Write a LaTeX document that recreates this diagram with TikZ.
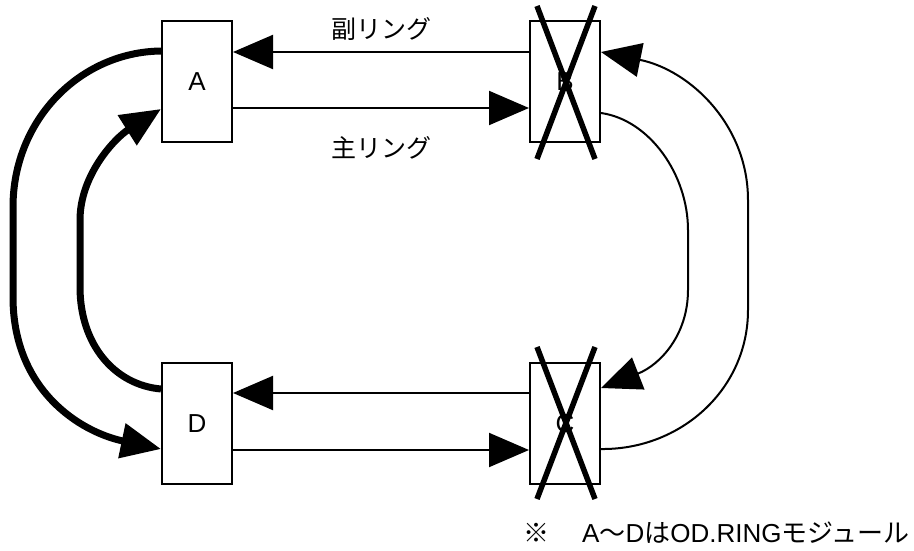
\documentclass[tikz,border=0pt]{standalone}
\usepackage{fontspec}
\setmainfont{Liberation Sans}
\newfontfamily\cjk{Noto Sans CJK JP}
\usetikzlibrary{arrows.meta}

\begin{document}
\begin{tikzpicture}[x=1pt, y=-1pt,
    module/.style={draw, line width=2pt, minimum width=70pt, minimum height=121pt, inner sep=0pt, font=\fontsize{26}{26}\selectfont},
    thin ring/.style={line width=2pt, -{Triangle[length=40pt, width=34pt]}},
    thick ring/.style={line width=7pt, -{Triangle[length=40pt, width=34pt]}},
    broken/.style={line width=5.5pt}]
    \useasboundingbox (0,0) rectangle (914,551);

    % Modules
    \node[module] (A) at (197,81.5) {A};
    \node[module] (B) at (565,81.5) {B};
    \node[module] (D) at (197,423.5) {D};
    \node[module] (C) at (565,423.5) {C};

    % Straight links
    \draw[thin ring] ([yshift=-32pt]B.north west) -- ([yshift=-32pt]A.north east);
    \draw[thin ring] ([yshift=-88pt]A.north west -| A.east) -- ([yshift=-88pt]B.north west);
    \draw[thin ring] ([yshift=-31pt]C.north west) -- ([yshift=-31pt]D.north east);
    \draw[thin ring] ([yshift=-88pt]D.north west -| D.east) -- ([yshift=-88pt]C.north west);

    % Loop-back on the left
    \draw[thick ring] ([yshift=-31pt]A.north west) .. controls (80,52) and (13,120) .. (13,207)
        -- (13,297) .. controls (13,390) and (80,432) .. ([yshift=-87pt]D.north west);
    \draw[thick ring] ([yshift=-27pt]D.north west) .. controls (115,385) and (80,345) .. (80,287)
        -- (80,220) .. controls (80,175) and (115,138) .. ([yshift=-89pt]A.north west);

    % Loop-back on the right
    \draw[thin ring] ([yshift=-87pt]C.north east) .. controls (680,450) and (748,390) .. (748,310)
        -- (748,200) .. controls (748,125) and (690,70) .. ([yshift=-32pt]B.north east);
    \draw[thin ring] ([yshift=-93pt]B.north east) .. controls (650,120) and (688,175) .. (688,230)
        -- (688,290) .. controls (688,335) and (660,365) .. ([yshift=-26pt]C.north east);

    % Failed modules
    \draw[broken] ([xshift=8pt,yshift=14pt]B.north west) -- ([xshift=-6pt,yshift=-16pt]B.south east);
    \draw[broken] ([xshift=-6pt,yshift=14pt]B.north east) -- ([xshift=8pt,yshift=-16pt]B.south west);
    \draw[broken] ([xshift=8pt,yshift=15pt]C.north west) -- ([xshift=-6pt,yshift=-14pt]C.south east);
    \draw[broken] ([xshift=-6pt,yshift=15pt]C.north east) -- ([xshift=8pt,yshift=-14pt]C.south west);

    % Labels
    \node[font=\cjk\fontsize{25}{25}\selectfont] (sub) at (381,29) {副リング};
    \node[font=\cjk\fontsize{25}{25}\selectfont] (main) at (381,148) {主リング};
    \node[anchor=west, inner sep=0pt, font=\fontsize{26}{26}\selectfont] (note) at (523,533)
        {{\cjk ※}\hspace{33pt}A{\cjk 〜}D{\cjk は}OD.RING{\cjk モジュール}};
\end{tikzpicture}
\end{document}
